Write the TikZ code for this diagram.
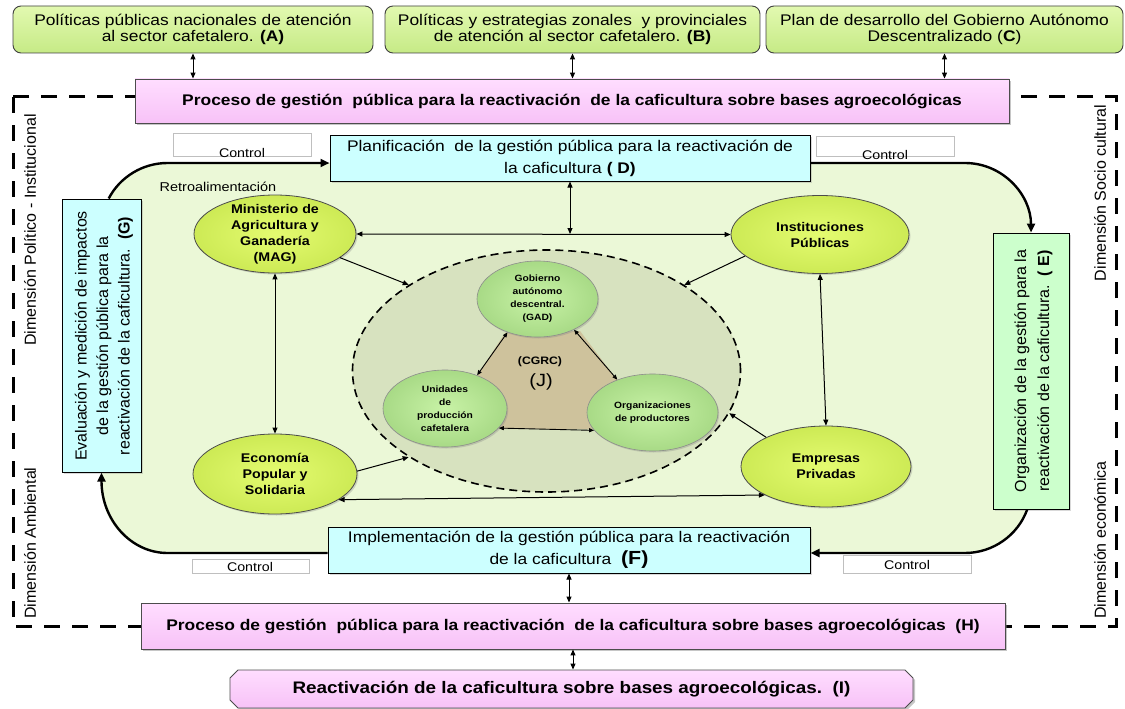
\documentclass[tikz,border=0pt]{standalone}
\usepackage{fontspec}
\setmainfont{Liberation Sans}[FakeStretch=1.13]
\newfontfamily\rotfont{Liberation Sans}
\usetikzlibrary{arrows.meta,shapes.geometric,shapes.misc,shadows}

\definecolor{gtop}{HTML}{E2F9B0}
\definecolor{gbot}{HTML}{C6EA86}
\definecolor{pinktop}{HTML}{FFDDFF}
\definecolor{pinkbot}{HTML}{F7C2F7}
\definecolor{cyanbox}{HTML}{CCFFFF}
\definecolor{mintbox}{HTML}{CCFFCC}
\definecolor{regionc}{HTML}{EBF8D7}
\definecolor{jfill}{HTML}{D7E2BF}
\definecolor{trapc}{HTML}{CEC29C}
\definecolor{yin}{HTML}{E4FB70}
\definecolor{yout}{HTML}{CDEA55}
\definecolor{lgin}{HTML}{C8F2A6}
\definecolor{lgout}{HTML}{A8DA86}

\begin{document}
\begin{tikzpicture}[x=1pt,y=-1pt,
  topbox/.style={draw=black!75, line width=0.9pt, rounded corners=8pt, top color=gtop, bottom color=gbot,
     minimum height=47pt, inner sep=0pt, align=center, font=\fontsize{15.4}{16}\selectfont},
  pinkbox/.style={draw=black!70, line width=0.9pt, top color=pinktop, bottom color=pinkbot,
     drop shadow={shadow xshift=2pt,shadow yshift=-2pt,opacity=0.45}, inner sep=0pt, align=center,
     font=\bfseries\fontsize{15.4}{17}\selectfont},
  cbox/.style={draw=black, line width=1pt, fill=cyanbox, inner sep=0pt, align=center,
     drop shadow={shadow xshift=1.5pt,shadow yshift=-1.5pt,opacity=0.3},
     font=\fontsize{15.4}{22}\selectfont},
  rottext/.style={inner sep=0pt, align=center, font=\rotfont\fontsize{16}{21.5}\selectfont},
  dimtext/.style={inner sep=0pt, font=\rotfont\fontsize{16}{18}\selectfont},
  ctlbox/.style={draw=black!25, line width=0.6pt, fill=white, inner sep=0pt},
  ctltext/.style={inner sep=0pt, font=\fontsize{12.6}{14}\selectfont},
  yell/.style={ellipse, draw=black!70, line width=0.8pt, inner color=yin, outer color=yout,
     drop shadow={shadow xshift=1.5pt,shadow yshift=-1.5pt,opacity=0.3}, inner sep=0pt},
  lgell/.style={ellipse, draw=black!45, line width=0.6pt, inner color=lgin, outer color=lgout,
     drop shadow={shadow xshift=1.2pt,shadow yshift=-1.5pt,opacity=0.3}, inner sep=0pt},
  etext/.style={inner sep=0pt, align=center, font=\bfseries\fontsize{12.6}{16}\selectfont},
  itext/.style={inner sep=0pt, align=center, font=\bfseries\fontsize{9.1}{13}\selectfont},
  biarrow/.style={line width=1pt, {Triangle[length=6pt,width=5pt]}-{Triangle[length=6pt,width=5pt]}},
  onearrow/.style={line width=1pt, -{Triangle[length=6pt,width=5pt]}},
  smallbi/.style={line width=0.9pt, {Triangle[length=5pt,width=4pt]}-{Triangle[length=5pt,width=4pt]}},
  loopline/.style={line width=2.4pt, -{Triangle[length=9pt,width=8pt]}},
  outerdash/.style={line width=3pt, dash pattern=on 16pt off 12pt},
]
\useasboundingbox (0,0) rectangle (1125,709);

% background region
\fill[regionc, rounded corners=66pt] (101.5,163) rectangle (1031,553);
% outer dashed frame
\draw[outerdash] (13,97) rectangle (1116,626);

% dimension labels
\node[dimtext, rotate=90] (dim1) at (30,230) {Dimensión Político - Institucional};
\node[dimtext, rotate=90] (dim2) at (30,543) {Dimensión Ambiental};
\node[dimtext, rotate=90] (dim3) at (1100,193) {Dimensión Socio cultural};
\node[dimtext, rotate=90] (dim4) at (1100,540) {Dimensión económica};

% top boxes
\node[topbox, minimum width=360pt] (A) at (193,29.5) {Políticas públicas nacionales de atención\\al sector cafetalero. \textbf{(A)}};
\node[topbox, minimum width=375pt] (B) at (572.5,29.5) {Políticas y estrategias zonales\ \ y provinciales\\de atención al sector cafetalero. \textbf{(B)}};
\node[topbox, minimum width=357pt] (C) at (944.5,29.5) {Plan de desarrollo del Gobierno Autónomo\\Descentralizado (\textbf{C})};

% pink boxes
\node[pinkbox, minimum width=874pt, minimum height=44pt] (P1) at (572,101) {Proceso de gestión\ \ pública para la reactivación\ \ de la caficultura sobre bases agroecológicas};
\node[pinkbox, minimum width=864pt, minimum height=46pt] (H) at (573,626) {Proceso de gestión\ \ pública para la reactivación\ \ de la caficultura sobre bases agroecológicas\ \ (H)};
\node[pinkbox, chamfered rectangle, chamfered rectangle xsep=4pt, chamfered rectangle ysep=4pt,
      minimum width=683pt, minimum height=38pt, font=\bfseries\fontsize{16.7}{18}\selectfont] (I) at (571.5,689) {Reactivación de la caficultura sobre bases agroecológicas.\ \ (I)};

% control boxes
\node[ctlbox, minimum width=138pt, minimum height=23pt] (cb1) at (242,144.5) {};
\node[ctltext] (ct1) at (242,152.5) {Control};
\node[ctlbox, minimum width=138pt, minimum height=20pt] (cb2) at (885,146) {};
\node[ctltext] (ct2) at (885,154.5) {Control};
\node[ctlbox, minimum width=117pt, minimum height=14pt] (cb3) at (250.5,566) {};
\node[ctltext] (ct3) at (250,567) {Control};
\node[ctlbox, minimum width=128pt, minimum height=18pt] (cb4) at (907,564) {};
\node[ctltext] (ct4) at (907,564.5) {Control};

\node[ctltext, font=\fontsize{12.8}{14}\selectfont] (retro) at (218,187) {Retroalimentación};

% central dashed ellipse
\node[ellipse, draw=black, line width=1.6pt, dash pattern=on 8pt off 5pt, fill=jfill,
      minimum width=388pt, minimum height=242pt, inner sep=0pt] (J) at (546.5,371) {};
\fill[trapc] (505,333) -- (580,331) -- (617,380) -- (600,429) -- (500,429) -- (477,376) -- cycle;
\node[inner sep=0pt, font=\bfseries\fontsize{10.8}{12}\selectfont] (cgrc) at (540,362) {(CGRC)};
\node[inner sep=0pt, font=\fontsize{17.7}{18}\selectfont] (jlab) at (541,382) {(J)};

% inner ellipses
\node[lgell, minimum width=121pt, minimum height=76pt] (GAD) at (537.5,299) {};
\node[itext] (GADt) at (GAD.center) {Gobierno\\autónomo\\descentral.\\(GAD)};
\node[lgell, minimum width=124pt, minimum height=77pt] (Uni) at (445,408.5) {};
\node[itext] (Unit) at (Uni.center) {Unidades\\de\\producción\\cafetalera};
\node[lgell, minimum width=131pt, minimum height=77pt] (Org) at (652.5,412.5) {};
\node[itext] (Orgt) at (Org.center) {Organizaciones\\de productores};

% outer ellipses
\node[yell, minimum width=162pt, minimum height=78pt] (MAG) at (275,234) {};
\node[etext] (MAGt) at (MAG.center) {Ministerio de\\Agricultura y\\Ganadería\\(MAG)};
\node[yell, minimum width=178pt, minimum height=78pt] (Inst) at (820,234.5) {};
\node[etext] (Instt) at (Inst.center) {Instituciones\\Públicas};
\node[yell, minimum width=164pt, minimum height=80pt] (Eco) at (275,474) {};
\node[etext] (Ecot) at (Eco.center) {Economía\\Popular y\\Solidaria};
\node[yell, minimum width=170pt, minimum height=81pt] (Emp) at (826,466.5) {};
\node[etext] (Empt) at (Emp.center) {Empresas\\Privadas};

% process boxes
\node[cbox, minimum width=480pt, minimum height=46pt] (D) at (570,158) {Planificación\ \ de la gestión pública para la reactivación de\\la caficultura \textbf{( D)}};
\node[cbox, minimum width=482pt, minimum height=46pt] (F) at (569,550) {Implementación de la gestión pública para la reactivación\\de la caficultura\ \ {\bfseries\fontsize{19}{19}\selectfont (F)}};
\node[cbox, minimum width=79pt, minimum height=273pt] (G) at (101.5,335.5) {};
\node[rottext, rotate=90] (Gt) at (104,336) {Evaluación y medición de impactos\\de la gestión pública para la\\reactivación de la caficultura.\ \ \textbf{(G)}};
\node[cbox, fill=mintbox, minimum width=76pt, minimum height=276pt] (E) at (1031,371) {};
\node[rottext, rotate=90, font=\rotfont\fontsize{16}{23}\selectfont] (Et) at (1033.5,371) {Organización de la gestión para la\\reactivación de la caficultura.\ \ \textbf{( E)}};

% loop connectors
\draw[loopline] ([xshift=7.2pt]G.north) .. controls (120,176.9) and (142.7,163) .. (167.5,163) -- ([yshift=-5pt]D.west);
\draw[loopline] ([yshift=-5pt]D.east) -- (965,163) .. controls (1003,163) and (1031,195) .. (E.north);
\draw[loopline] ([xshift=-3.8pt]E.south) .. controls (1017.9,535.3) and (992.9,553) .. (965,553) -- ([yshift=-3pt]F.east);
\draw[loopline] ([yshift=-3pt]F.west) -- (167.5,553) .. controls (131,553) and (101.5,520) .. (G.south);

% thin connectors
\draw[biarrow] (A.south) -- (A.south |- P1.north);
\draw[biarrow] (B.south) -- (B.south |- P1.north);
\draw[biarrow] (C.south) -- (C.south |- P1.north);
\draw[biarrow] (F.south) -- (F.south |- H.north);
\draw[biarrow] (H.south) -- (H.south |- I.north);
\draw[biarrow] (MAG.east) -- (Inst.west);
\draw[biarrow] (D.south) -- (D.south |- MAG.east);
\draw[onearrow] (MAG.-20) -- (J.148);
\draw[onearrow] (Inst.196) -- (J.32);
\draw[onearrow] (Eco.2) -- (J.212);
\draw[onearrow] (Emp.154) -- (J.-13);
\draw[biarrow] (MAG.south) -- (Eco.north);
\draw[biarrow] (Inst.south) -- (Emp.north);
\draw[biarrow] (Eco.-22) -- (Emp.205);
\draw[smallbi] (GAD.228) -- (Uni.46);
\draw[smallbi] (GAD.-40) -- (Org.137);
\draw[smallbi] (Uni.-20) -- (Org.197);
\end{tikzpicture}
\end{document}
